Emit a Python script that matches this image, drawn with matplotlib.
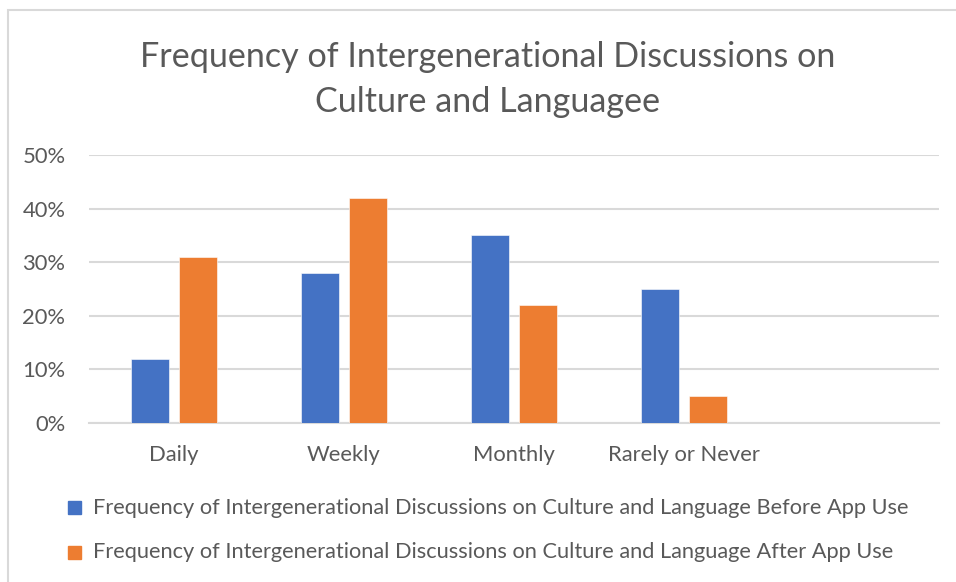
"""Grouped bar chart: intergenerational discussions before/after app use."""
import matplotlib

matplotlib.use("Agg")
import matplotlib.pyplot as plt
import numpy as np
from matplotlib.patches import Rectangle
from matplotlib.ticker import FuncFormatter, MultipleLocator

plt.rcParams["font.family"] = ["Lato", "DejaVu Sans"]

categories = ["Daily", "Weekly", "Monthly", "Rarely or Never", ""]
before_app = [0.12, 0.28, 0.35, 0.25, np.nan]
after_app = [0.31, 0.42, 0.22, 0.05, np.nan]
series_names = [
    "Frequency of Intergenerational Discussions on Culture and Language Before App Use",
    "Frequency of Intergenerational Discussions on Culture and Language After App Use",
]
title_lines = ["Frequency of Intergenerational Discussions on", "Culture and Languagee"]

BLUE = "#4472C4"
ORANGE = "#ED7D31"
TEXT = "#595959"
GRID = "#D9D9D9"

W, H = 956, 582
fig = plt.figure(figsize=(W / 100, H / 100), dpi=100)
# chart frame (only top and left edges are visible in the crop)
fig.patches.append(
    Rectangle((8 / W, -0.1), 1.2, (H - 10) / H + 0.1,
              transform=fig.transFigure, fill=False, edgecolor=GRID, lw=1.5)
)

ax = fig.add_axes([89 / W, 159 / H, 850 / W, 268 / H])
x = np.arange(len(categories))
width = 0.224
offset = 0.142
ax.bar(x - offset, before_app, width, color=BLUE, edgecolor="white", lw=0.4, zorder=3)
ax.bar(x + offset, after_app, width, color=ORANGE, edgecolor="white", lw=0.4, zorder=3)

ax.set_xlim(-0.5, len(categories) - 0.5)
ax.set_ylim(0, 0.5)
ax.yaxis.set_major_locator(MultipleLocator(0.1))
ax.yaxis.set_major_formatter(FuncFormatter(lambda v, _: f"{v:.0%}"))
ax.grid(axis="y", color=GRID, lw=1.5, zorder=0)
ax.set_xticks(x)
ax.set_xticklabels(categories)
ax.tick_params(axis="both", length=0, colors=TEXT, labelsize=15.8)
ax.tick_params(axis="x", pad=16)
ax.tick_params(axis="y", pad=17)
for side in ["top", "right", "left"]:
    ax.spines[side].set_visible(False)
ax.spines["bottom"].set_color(GRID)
ax.spines["bottom"].set_linewidth(1.5)

for line, y in zip(title_lines, [57, 102]):
    fig.text(488 / W, 1 - y / H, line, ha="center", va="center",
             fontsize=24.6, color=TEXT)

# legend, drawn as squares + labels
for name, color, y in zip(series_names, [BLUE, ORANGE], [507.5, 552.5]):
    fig.patches.append(
        Rectangle((68 / W, 1 - (y + 6.5) / H), 13 / W, 13 / H,
                  transform=fig.transFigure, color=color)
    )
    fig.text(93 / W, 1 - y / H, name, ha="left", va="center",
             fontsize=15.7, color=TEXT)

fig.savefig("out.png", dpi=100)
